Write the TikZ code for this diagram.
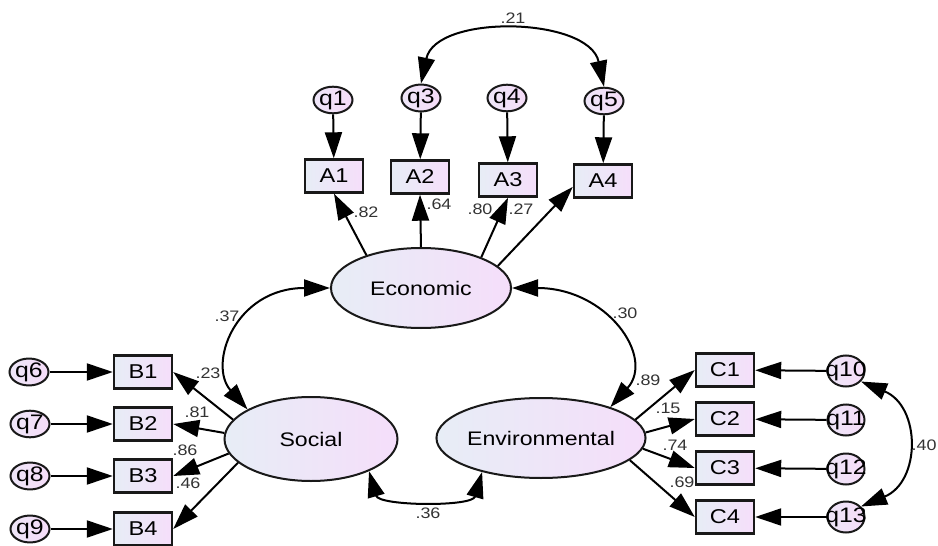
\documentclass[tikz,border=0pt]{standalone}
\usepackage{fontspec}
\newfontfamily\amosfont{Liberation Sans}[FakeStretch=1.18]
\usetikzlibrary{arrows.meta,shapes.geometric}
\definecolor{shadeL}{RGB}{231,237,246}
\definecolor{shadeR}{RGB}{245,222,250}
\definecolor{errL}{RGB}{238,230,248}
\definecolor{errR}{RGB}{245,220,248}
\definecolor{inkgray}{RGB}{25,25,25}
\newcommand{\wideq}[1]{\makebox[0pt]{#1}}

\begin{document}
\begin{tikzpicture}[x=0.5pt,y=-0.5pt,>={Triangle[length=13pt,width=8.5pt]}]
     \tikzstyle{latent_style} = [ellipse,draw=inkgray,line width=1pt,left color=shadeL,right color=shadeR,minimum width=87pt,minimum height=41pt,inner sep=0pt,font=\amosfont\fontsize{9.8}{11}\selectfont]
     \tikzstyle{box_style} = [rectangle,draw=inkgray,line width=1.2pt,left color=shadeL,right color=shadeR,minimum width=29pt,minimum height=16.5pt,inner sep=0pt,font=\amosfont\fontsize{10}{11}\selectfont]
     \tikzstyle{err_style} = [ellipse,draw=inkgray,line width=1pt,left color=errL,right color=errR,minimum width=19.5pt,minimum height=12.5pt,inner sep=0pt,font=\amosfont\fontsize{10.5}{11}\selectfont]
     \tikzstyle{err_round_style} = [err_style,minimum width=18.5pt,minimum height=15.5pt]
     \tikzstyle{edge_style} = [draw=black,line width=1pt,->]
     \tikzstyle{cov_style} = [draw=black,line width=1pt,<->]
     \tikzstyle{label_style} = [inner sep=0pt,text=black!80,font=\amosfont\fontsize{7.6}{9}\selectfont]
     \useasboundingbox (0,0) rectangle (938,546);
     % economic block
     \node[err_style] (q1) at (333,100) {q1};
     \node[err_style] (q3) at (421,98) {q3};
     \node[err_style] (q4) at (507,98) {q4};
     \node[err_style] (q5) at (604,101) {q5};
     \node[box_style] (A1) at (334,176) {A1};
     \node[box_style] (A2) at (420,177) {A2};
     \node[box_style] (A3) at (508,180) {A3};
     \node[box_style] (A4) at (603,181) {A4};
     \node[latent_style,minimum width=90pt,minimum height=40pt] (Eco) at (421,288) {Economic};
     % social block
     \node[err_style] (q6) at (29,372) {q6};
     \node[err_style] (q7) at (30,424) {q7};
     \node[err_style] (q8) at (30,476) {q8};
     \node[err_style] (q9) at (30,529) {q9};
     \node[box_style] (B1) at (143,372) {B1};
     \node[box_style] (B2) at (143,424) {B2};
     \node[box_style] (B3) at (143,476) {B3};
     \node[box_style] (B4) at (143,529) {B4};
     \node[latent_style,minimum width=86.5pt,minimum height=42pt] (Soc) at (311,439) {Social};
     % environmental block
     \node[box_style] (C1) at (725,370) {C1};
     \node[box_style] (C2) at (725,419) {C2};
     \node[box_style] (C3) at (725,468) {C3};
     \node[box_style] (C4) at (725,517) {C4};
     \node[err_round_style] (q10) at (846,371) {\wideq{q10}};
     \node[err_round_style] (q11) at (846,420) {\wideq{q11}};
     \node[err_round_style] (q12) at (846,469) {\wideq{q12}};
     \node[err_round_style] (q13) at (846,517) {\wideq{q13}};
     \node[latent_style,minimum width=86pt,minimum height=40pt] (Env) at (541,438) {Environmental};
     % errors
     \draw[edge_style]  (q1) -- (A1);
     \draw[edge_style]  (q3) -- (A2);
     \draw[edge_style]  (q4) -- (A3);
     \draw[edge_style]  (q5) -- (A4);
     \draw[edge_style]  (q6) -- (B1);
     \draw[edge_style]  (q7) -- (B2);
     \draw[edge_style]  (q8) -- (B3);
     \draw[edge_style]  (q9) -- (B4);
     \draw[edge_style]  (q10) -- (C1);
     \draw[edge_style]  (q11) -- (C2);
     \draw[edge_style]  (q12) -- (C3);
     \draw[edge_style]  (q13) -- (C4);
     % loadings
     \draw[edge_style]  (Eco.149) -- (A1.south);
     \draw[edge_style]  (Eco.north) -- (A2.south);
     \draw[edge_style]  (Eco.27) -- (A3.south);
     \draw[edge_style]  (Eco.16) -- (A4.191);
     \draw[edge_style]  (Soc.166) -- (B1.east);
     \draw[edge_style]  (Soc.176) -- (B2.east);
     \draw[edge_style]  (Soc.190) -- (B3.east);
     \draw[edge_style]  (Soc.198) -- (B4.east);
     \draw[edge_style]  (Env.11) -- (C1.west);
     \draw[edge_style]  (Env.3) -- (C2.west);
     \draw[edge_style]  (Env.-6) -- (C3.west);
     \draw[edge_style]  (Env.-14) -- (C4.west);
     % covariances
     \draw[cov_style] (q3.north) .. controls +(15,-70) and +(-15,-70) .. (q5.north);
     \draw[cov_style] (Eco.west) .. controls +(-95,0) and +(-40,-45) .. (Soc.155);
     \draw[cov_style] (Eco.east) .. controls +(95,0) and +(45,-50) .. (Env.24);
     \draw[cov_style] (Soc.-29) .. controls +(10,35) and +(-10,35) .. (Env.210);
     \draw[cov_style] (q10.-35) .. controls +(60,25) and +(60,-25) .. (q13.35);
     % estimates
     \node[label_style] (l82) at (366,212) {.82};
     \node[label_style] (l64) at (439,204) {.64};
     \node[label_style] (l80) at (480,209) {.80};
     \node[label_style] (l27) at (521,209) {.27};
     \node[label_style] (l23) at (208,373) {.23};
     \node[label_style] (l81) at (197,412) {.81};
     \node[label_style] (l86) at (185,450) {.86};
     \node[label_style] (l46) at (188,483) {.46};
     \node[label_style] (l89) at (648,380) {.89};
     \node[label_style] (l15) at (668,408) {.15};
     \node[label_style] (l74) at (675,445) {.74};
     \node[label_style] (l69) at (682,482) {.69};
     \node[label_style] (l21) at (513,18) {.21};
     \node[label_style] (l37) at (227,316) {.37};
     \node[label_style] (l30) at (625,313) {.30};
     \node[label_style] (l36) at (428,513) {.36};
     \node[label_style,anchor=east] (l40) at (937,445) {.40};
\end{tikzpicture}
\end{document}
